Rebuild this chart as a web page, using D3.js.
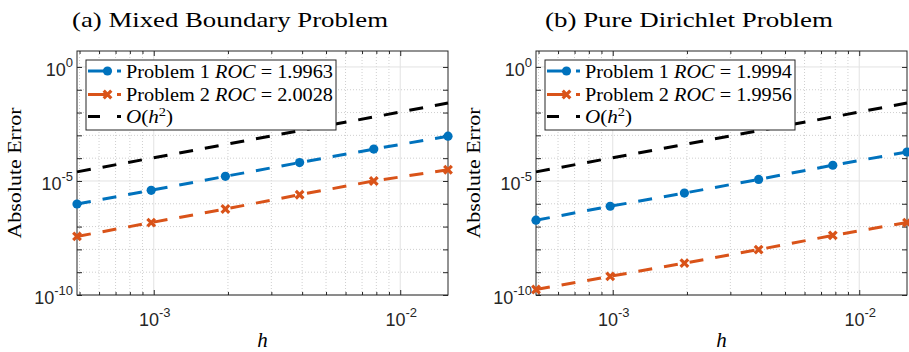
<!DOCTYPE html>
<html lang="en">
<head>
<meta charset="utf-8">
<title>Convergence</title>
<script src="https://cdn.jsdelivr.net/npm/d3@7"></script>
<style>
 body { margin: 0; background: #fff; }
</style>
</head>
<body>
<script>

 // step sizes h = 1/2048 ... 1/64
 var hValues = [0.00048828125, 0.0009765625, 0.001953125, 0.00390625, 0.0078125, 0.015625];

 // (a) mixed boundary problem
 var mixedP1 = [9.8e-7, 3.9e-6, 1.6e-5, 6.4e-5, 2.5e-4, 9.2e-4];
 var mixedP2 = [3.7e-8, 1.5e-7, 5.9e-7, 2.5e-6, 1.0e-5, 3.1e-5];

 // (b) pure Dirichlet problem
 var dirP1 = [1.9e-7, 7.8e-7, 2.95e-6, 1.17e-5, 4.9e-5, 1.86e-4];
 var dirP2 = [1.74e-10, 6.6e-10, 2.5e-9, 9.8e-9, 4.1e-8, 1.5e-7];

 // reference line O(h^2), same in both panels
 var refLine = [2.5e-5, 1.0e-4, 4.0e-4, 1.6e-3, 6.4e-3, 2.6e-2];

 var panelTitles = ["(a) Mixed Boundary Problem", "(b) Pure Dirichlet Problem"];
 var rocValues = [["1.9963", "2.0028"], ["1.9994", "1.9956"]];
 var xTickValues = [1e-3, 1e-2];
 var yTickValues = [1e-10, 1e-5, 1e0];

 var blue = "#0072BD", orange = "#D95319";
 var serif = "'Liberation Serif', 'Times New Roman', serif";
 var sans = "'Liberation Sans', Arial, sans-serif";

 var width = 909, height = 352;
 // note: "top" is reserved on window, so axTop / axBottom
 var axW = 371, axTop = 51, axBottom = 295;
 var panels = [
     {left: 77, p1: mixedP1, p2: mixedP2, titleLen: 316},
     {left: 536, p1: dirP1, p2: dirP2, titleLen: 288}
 ];

 var svg = d3.select("body")
	     .append("svg")
	     .attr("width", width)
	     .attr("height", height)
	     .style("font-family", serif);

 function supLabel(g, x, y, v, anchor) {
     var t = g.append("text")
	      .attr("x", x)
	      .attr("y", y)
	      .attr("text-anchor", anchor)
	      .style("font-family", sans)
	      .style("font-size", "18px")
	      .attr("fill", "#262626");
     t.append("tspan").text("10");
     t.append("tspan")
      .attr("dy", -9)
      .style("font-size", "13px")
      .text(Math.round(Math.log10(v)));
 }

 panels.forEach(function (p, i) {
     var g = svg.append("g");

     var x = d3.scaleLog()
	       .domain([hValues[0], hValues[hValues.length - 1]])
	       .range([p.left, p.left + axW]);
     var y = d3.scaleLog()
	       .domain([1e-10, 5])
	       .range([axBottom, axTop]);

     var isMajor = function (list, d) {
	 return list.some(function (t) { return Math.abs(Math.log10(t) - Math.log10(d)) < 1e-6; });
     };
     var xMinor = x.ticks().filter(function (d) { return !isMajor(xTickValues, d); });
     var yMinor = d3.range(-10, 1)
		    .map(function (e) { return Math.pow(10, e); })
		    .filter(function (d) { return !isMajor(yTickValues, d); });

     // grid
     var grid = g.append("g").attr("fill", "none");
     xMinor.forEach(function (d) {
	 grid.append("line")
	     .attr("x1", x(d)).attr("x2", x(d))
	     .attr("y1", axTop).attr("y2", axBottom)
	     .attr("stroke", "#cfcfcf").attr("stroke-dasharray", "1,2");
     });
     xTickValues.forEach(function (d) {
	 grid.append("line")
	     .attr("x1", x(d)).attr("x2", x(d))
	     .attr("y1", axTop).attr("y2", axBottom)
	     .attr("stroke", "#e2e2e2");
     });
     yMinor.forEach(function (d) {
	 grid.append("line")
	     .attr("x1", p.left).attr("x2", p.left + axW)
	     .attr("y1", y(d)).attr("y2", y(d))
	     .attr("stroke", "#cfcfcf").attr("stroke-dasharray", "1,2");
     });
     yTickValues.forEach(function (d) {
	 grid.append("line")
	     .attr("x1", p.left).attr("x2", p.left + axW)
	     .attr("y1", y(d)).attr("y2", y(d))
	     .attr("stroke", "#e2e2e2");
     });

     // ticks on all four sides, pointing inwards
     function ticks(axis, tr, vals, size) {
	 var a = g.append("g")
		  .attr("transform", tr)
		  .call(axis.tickValues(vals).tickSize(-size).tickFormat(""));
	 a.select(".domain").remove();
	 a.selectAll("line").attr("stroke", "#262626");
     }
     ticks(d3.axisBottom(x), "translate(0," + axBottom + ")", xMinor, 3);
     ticks(d3.axisBottom(x), "translate(0," + axBottom + ")", xTickValues, 5);
     ticks(d3.axisTop(x), "translate(0," + axTop + ")", xMinor, 3);
     ticks(d3.axisTop(x), "translate(0," + axTop + ")", xTickValues, 5);
     ticks(d3.axisLeft(y), "translate(" + p.left + ",0)", yMinor, 5);
     ticks(d3.axisLeft(y), "translate(" + p.left + ",0)", yTickValues, 5);
     ticks(d3.axisRight(y), "translate(" + (p.left + axW) + ",0)", yMinor, 5);
     ticks(d3.axisRight(y), "translate(" + (p.left + axW) + ",0)", yTickValues, 5);

     // frame
     g.append("rect")
      .attr("x", p.left).attr("y", axTop)
      .attr("width", axW).attr("height", axBottom - axTop)
      .attr("fill", "none")
      .attr("stroke", "#262626")
      .attr("stroke-width", 1);

     // tick labels
     xTickValues.forEach(function (d) {
	 supLabel(g, x(d) + 1, axBottom + 31, d, "middle");
     });
     yTickValues.forEach(function (d) {
	 supLabel(g, p.left - 4, y(d) + 9, d, "end");
     });

     // series
     var line = d3.line()
		  .x(function (d, j) { return x(hValues[j]); })
		  .y(function (d) { return y(d); });

     var series = [
	 {vals: refLine, color: "#000", marker: null},
	 {vals: p.p1, color: blue, marker: "circle"},
	 {vals: p.p2, color: orange, marker: "cross"}
     ];

     series.forEach(function (s) {
	 g.append("path")
	  .datum(s.vals)
	  .attr("d", line)
	  .attr("fill", "none")
	  .attr("stroke", s.color)
	  .attr("stroke-width", 3)
	  .attr("stroke-dasharray", "14,12");
	 if (s.marker === "circle") {
	     g.selectAll(null)
	      .data(s.vals)
	      .enter()
	      .append("circle")
	      .attr("cx", function (d, j) { return x(hValues[j]); })
	      .attr("cy", function (d) { return y(d); })
	      .attr("r", 4.6)
	      .attr("fill", s.color);
	 } else if (s.marker === "cross") {
	     g.selectAll(null)
	      .data(s.vals)
	      .enter()
	      .append("path")
	      .attr("transform", function (d, j) {
		  return "translate(" + x(hValues[j]) + "," + y(d) + ")";
	      })
	      .attr("d", "M-3.8,-3.8L3.8,3.8M-3.8,3.8L3.8,-3.8")
	      .attr("stroke", s.color)
	      .attr("stroke-width", 3.2);
	 }
     });

     // legend
     var lg = g.append("g");
     var lx = p.left + 9;
     lg.append("rect")
       .attr("x", lx).attr("y", 60)
       .attr("width", 250).attr("height", 70)
       .attr("fill", "#fff")
       .attr("stroke", "#262626")
       .attr("stroke-width", 1);

     var rows = [
	 {y: 71, color: blue, marker: "circle", label: ["Problem 1 ", "ROC", " = " + rocValues[i][0]], len: 207},
	 {y: 94.5, color: orange, marker: "cross", label: ["Problem 2 ", "ROC", " = " + rocValues[i][1]], len: 207},
	 {y: 116.5, color: "#000", marker: null, label: null, len: 47}
     ];
     rows.forEach(function (r) {
	 lg.append("line")
	   .attr("x1", lx + 2).attr("x2", lx + 35)
	   .attr("y1", r.y).attr("y2", r.y)
	   .attr("stroke", r.color)
	   .attr("stroke-width", 3)
	   .attr("stroke-dasharray", r.marker ? "20,9" : "12,17");
	 if (r.marker === "circle") {
	     lg.append("circle")
	       .attr("cx", lx + 21.5).attr("cy", r.y)
	       .attr("r", 4.6).attr("fill", r.color);
	 } else if (r.marker === "cross") {
	     lg.append("path")
	       .attr("transform", "translate(" + (lx + 21.5) + "," + r.y + ")")
	       .attr("d", "M-3.8,-3.8L3.8,3.8M-3.8,3.8L3.8,-3.8")
	       .attr("stroke", r.color)
	       .attr("stroke-width", 3.2);
	 }
	 var t = lg.append("text")
		   .attr("x", lx + 40)
		   .attr("y", r.y + 6.5)
		   .attr("textLength", r.len)
		   .attr("lengthAdjust", "spacingAndGlyphs")
		   .style("font-size", "19px")
		   .attr("fill", "#000");
	 if (r.label) {
	     t.append("tspan").text(r.label[0]);
	     t.append("tspan").style("font-style", "italic").text(r.label[1]);
	     t.append("tspan").text(r.label[2]);
	 } else {
	     t.append("tspan").style("font-style", "italic").text("O");
	     t.append("tspan").text("(");
	     t.append("tspan").style("font-style", "italic").text("h");
	     t.append("tspan").attr("dy", -7).style("font-size", "13px").text("2");
	     t.append("tspan").attr("dy", 7).text(")");
	 }
     });

     // title and axis labels
     g.append("text")
      .attr("x", p.left + axW / 2 - 32.5)
      .attr("y", 27)
      .attr("text-anchor", "middle")
      .attr("textLength", p.titleLen)
      .attr("lengthAdjust", "spacingAndGlyphs")
      .style("font-size", "21px")
      .text(panelTitles[i]);

     g.append("text")
      .attr("transform", "translate(" + (p.left - 56) + "," + ((axTop + axBottom) / 2) + ") rotate(-90)")
      .attr("text-anchor", "middle")
      .attr("textLength", 131)
      .attr("lengthAdjust", "spacingAndGlyphs")
      .style("font-size", "19px")
      .text("Absolute Error");

     g.append("text")
      .attr("x", p.left + axW / 2)
      .attr("y", 347)
      .attr("text-anchor", "middle")
      .style("font-size", "21px")
      .style("font-style", "italic")
      .text("h");
 });

</script>
</body>
</html>
